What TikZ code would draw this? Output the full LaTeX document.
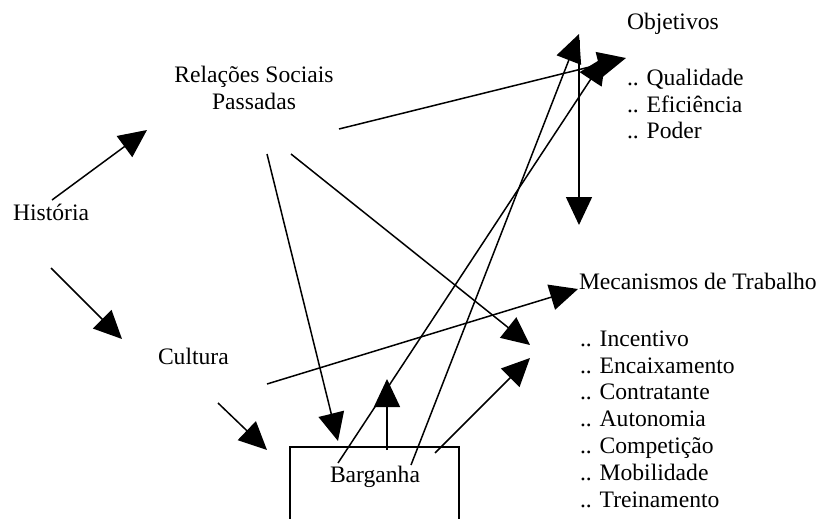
\documentclass[tikz,border=0pt]{standalone}
\usepackage{fontspec}
\setmainfont{Liberation Serif}
\usetikzlibrary{arrows.meta}
\begin{document}
\begin{tikzpicture}[x=1pt,y=-1pt,
  lbl/.style={inner sep=0pt,outer sep=0pt,anchor=base west,font=\fontsize{23.6}{26.6}\selectfont},
  con/.style={line width=1.5pt},
  arr/.style={con,-{Triangle[length=28pt,width=26pt]}}]
\useasboundingbox (0,0) rectangle (825,519);
% texts
\node[lbl] (obj) at (627,30) {Objetivos};
\node[lbl] (q) at (627,85) {.. Qualidade};
\node[lbl] (e) at (627,112) {.. Eficiência};
\node[lbl] (p) at (627,138) {.. Poder};
\node[lbl,anchor=base] (rel1) at (254,83) {Relações Sociais};
\node[lbl,anchor=base] (rel2) at (254,110) {Passadas};
\node[lbl] (hist) at (13,220) {História};
\node[lbl] (cult) at (158,364) {Cultura};
\node[lbl] (barg) at (330,482) {Barganha};
\node[lbl] (mec) at (579,289) {Mecanismos de Trabalho};
\node[lbl] (m1) at (580,346) {.. Incentivo};
\node[lbl] (m2) at (580,373) {.. Encaixamento};
\node[lbl] (m3) at (580,399) {.. Contratante};
\node[lbl] (m4) at (580,426) {.. Autonomia};
\node[lbl] (m5) at (580,453) {.. Competição};
\node[lbl] (m6) at (580,480) {.. Mobilidade};
\node[lbl] (m7) at (580,507) {.. Treinamento};
% box
\coordinate (bx1) at (290,530);
\coordinate (bx2) at (290,447);
\coordinate (bx3) at (459,447);
\coordinate (bx4) at (459,530);
\draw[con] (bx1) -- (bx2) -- (bx3) -- (bx4);
% endpoints
\coordinate (h1) at (52,200);   \coordinate (h1t) at (147,130);
\coordinate (h2) at (51,268);   \coordinate (h2t) at (122,339);
\coordinate (c1) at (218,403);  \coordinate (c1t) at (267,450);
\coordinate (c2) at (267,384);  \coordinate (c2t) at (578,289);
\coordinate (r1) at (267,154);  \coordinate (r1t) at (338,441);
\coordinate (r2) at (291,154);  \coordinate (r2t) at (530,345);
\coordinate (r3) at (339,129);  \coordinate (r3t) at (626,58);
\coordinate (b1) at (338,463);  \coordinate (b1t) at (606,56);
\coordinate (b2) at (411,465);  \coordinate (b2t) at (579,34);
\coordinate (b3) at (435,453);  \coordinate (b3t) at (530,358);
\coordinate (b4) at (387,450);  \coordinate (b4t) at (387,379);
\coordinate (v1) at (579,40);   \coordinate (v1t) at (579,225);
% connectors
\draw[arr] (h1) -- (h1t);
\draw[arr] (h2) -- (h2t);
\draw[arr] (c1) -- (c1t);
\draw[arr] (c2) -- (c2t);
\draw[arr] (r1) -- (r1t);
\draw[arr] (r2) -- (r2t);
\draw[arr] (r3) -- (r3t);
\draw[arr] (b1) -- (b1t);
\draw[arr] (b2) -- (b2t);
\draw[arr] (b3) -- (b3t);
\draw[arr] (b4) -- (b4t);
\draw[arr] (v1) -- (v1t);
\end{tikzpicture}
\end{document}
